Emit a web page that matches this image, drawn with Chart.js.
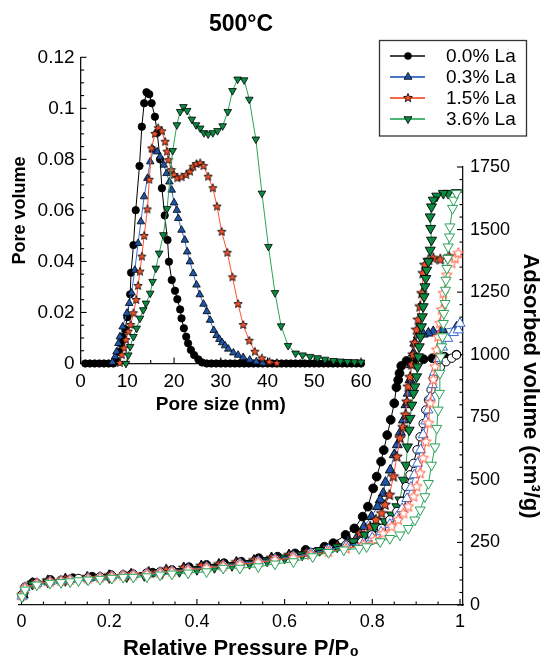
<!DOCTYPE html>
<html><head><meta charset="utf-8">
<script src="https://cdn.jsdelivr.net/npm/chart.js@4.4.0/dist/chart.umd.min.js"></script>
<style>
html,body{margin:0;padding:0;background:#fff;}
#wrap{position:relative;width:544px;height:660px;overflow:hidden;}
#main,#inset{position:absolute;left:0;top:0;}
</style></head><body>
<div id="wrap"><canvas id="main" width="544" height="660"></canvas><canvas id="inset" width="400" height="430"></canvas></div>
<script>
// ---------------- DATA ----------------
const chartTitle = '500°C';
const seriesLabels = ['0.0% La', '0.3% La', '1.5% La', '3.6% La'];

// Inset: pore size distribution (nm, pore volume)
const psdSize00 = [1,2,3,4,5,6,7,7.6,8.2,8.6,8.9,9.5,10.0,10.6,10.8,11.3,11.8,12.6,13.1,13.6,14.1,14.7,15.2,15.9,16.4,17.0,17.4,18.0,18.6,18.9,19.5,20.2,20.7,21.3,21.6,22.1,22.6,23.0,23.6,24.3,25.2,26,27,28,29,30,31,32,33,34,35,36,37,38,39,40,41,42,43,44,45,46,47,48,49,50,51,52,53,54,55,56,57,58,59,60];
const psdVol00  = [0,0,0,0,0,0,0,0.001,0.0046,0.0079,0.0105,0.0134,0.0181,0.0271,0.0356,0.0464,0.0601,0.0774,0.0928,0.1020,0.1063,0.1055,0.1020,0.0967,0.0904,0.0800,0.0687,0.058,0.0484,0.0399,0.0327,0.0285,0.0252,0.0212,0.0177,0.0138,0.0105,0.0079,0.0053,0.0033,0.0016,0.0004,0,0,0,0,0,0,0,0,0,0,0,0,0,0,0,0,0,0,0,0,0,0,0,0,0,0,0,0,0,0,0,0,0,0];
const psdSize03 = [6.8,7.4,7.7,8.1,8.4,9.0,9.9,10.4,10.9,11.6,12.3,12.9,13.6,14.3,14.9,15.6,16.4,17.0,17.8,18.4,19.0,19.5,20.0,20.6,20.9,21.6,22.3,22.8,23.4,24.1,24.8,25.5,26.3,27.0,27.7,28.5,29.1,29.7,30.3,30.9,31.6,32.7,33.7,34.8,36.2,37.6,39.0];
const psdVol03  = [0.0005,0.0027,0.0046,0.0079,0.0105,0.0144,0.0197,0.0236,0.0277,0.0366,0.0471,0.0556,0.0654,0.0726,0.0791,0.0837,0.0830,0.0810,0.0778,0.0745,0.0712,0.0680,0.0630,0.0601,0.0569,0.0523,0.0484,0.0438,0.0399,0.0353,0.0308,0.0270,0.0233,0.0204,0.0170,0.0130,0.0110,0.0095,0.0082,0.0070,0.0057,0.0042,0.0033,0.0024,0.0014,0.0007,0.0002];
const psdSize15 = [8.4,8.8,9.3,9.7,10.2,10.7,11.3,11.9,12.3,12.7,13.1,13.6,14.3,14.7,15.2,15.9,16.6,17.4,18.1,18.5,18.8,19.4,20.0,20.7,21.6,22.6,23.4,24.1,24.8,25.6,26.3,27.3,28.3,29.2,30.2,31.4,32.5,33.7,34.8,36.1,37.3,38.8,40.4,42.0];
const psdVol15  = [0.0002,0.0033,0.006,0.0092,0.0125,0.0151,0.0197,0.0249,0.0304,0.036,0.0419,0.050,0.0604,0.072,0.0843,0.090,0.0922,0.0910,0.0869,0.0830,0.0797,0.0758,0.0739,0.0726,0.0730,0.0739,0.0752,0.0771,0.0782,0.0785,0.0774,0.0732,0.0687,0.0615,0.0516,0.0434,0.0338,0.0233,0.0151,0.0089,0.0046,0.002,0.0006,0.0001];
const psdSize36 = [9.7,10.2,10.6,11.3,12.0,12.7,13.4,14.0,14.9,15.4,16.1,16.8,17.7,18.5,19.7,20.6,21.3,22.0,22.8,23.8,24.7,25.6,26.4,27.3,28.3,29.3,30.4,31.5,32.5,33.6,35.0,36.1,37.5,38.8,40.2,41.6,42.9,44.4,46.0,47.5,49.1,50.7,52.3,54.1,55.6,57.1,58.6,60];
const psdVol36  = [0,0.0033,0.0066,0.0105,0.0138,0.0177,0.0210,0.0236,0.0275,0.0321,0.0373,0.0432,0.0504,0.0607,0.0834,0.0935,0.0987,0.1006,0.0991,0.0957,0.0935,0.0922,0.0904,0.0899,0.0904,0.0912,0.0931,0.0987,0.1069,0.1114,0.1111,0.1035,0.0879,0.0667,0.0458,0.0277,0.0147,0.0070,0.0040,0.0033,0.0027,0.0022,0.0016,0.0011,0.0009,0.0007,0.0006,0.0005];

// Main: isotherms (P/P0, adsorbed volume) - open = adsorption, filled = desorption
const p00Ads = [0.001,0.008,0.035,0.065,0.09,0.111,0.13,0.152,0.179,0.206,0.232,0.255,0.286,0.316,0.343,0.38,0.422,0.46,0.498,0.54,0.578,0.62,0.66,0.70,0.74,0.776,0.799,0.821,0.84,0.856,0.867,0.877,0.886,0.894,0.902,0.909,0.916,0.922,0.928,0.934,0.939,0.955,0.968,0.981,0.992];
const v00Ads = [40,72,88,95,99,103,106,109,113,117,121,123,128,133,138,145,153,160,168,177,186,197,210,225,240,253,280,306,340,373,413,473,520,566,620,672,725,779,819,860,906,950,972,986,999];
const p00Des = [0.992,0.965,0.937,0.917,0.897,0.878,0.866,0.862,0.859,0.855,0.850,0.842,0.834,0.826,0.820,0.810,0.802,0.790,0.778,0.759,0.739,0.711,0.691,0.648,0.624,0.584,0.541,0.501,0.462,0.422,0.382,0.343,0.299,0.252,0.204,0.161,0.117,0.066,0.026,0.004];
const v00Des = [1000,992,986,982,979,975,955,926,899,870,806,740,679,619,573,513,466,393,353,306,280,247,233,220,206,193,187,173,167,160,151,140,129,124,120,113,107,100,89,45];

const p03Ads = [0.001,0.008,0.035,0.065,0.09,0.111,0.152,0.179,0.206,0.232,0.255,0.286,0.316,0.343,0.38,0.422,0.46,0.498,0.54,0.578,0.62,0.66,0.70,0.74,0.78,0.80,0.82,0.84,0.856,0.868,0.879,0.888,0.896,0.903,0.91,0.916,0.922,0.927,0.932,0.937,0.942,0.95,0.96,0.972,0.985,0.996,1.0];
const v03Ads = [35,70,86,93,97,101,107,111,115,119,121,126,131,136,143,151,158,166,175,184,194,206,221,236,248,268,292,322,352,385,425,470,520,566,620,680,735,779,830,880,930,985,1030,1065,1088,1099,1125];
const p03Des = [0.992,0.96,0.939,0.928,0.916,0.905,0.897,0.894,0.889,0.886,0.882,0.877,0.871,0.864,0.857,0.85,0.841,0.83,0.825,0.818,0.812,0.798,0.781,0.766,0.745,0.72,0.69,0.65,0.61,0.57,0.53,0.49,0.45,0.41,0.37,0.33,0.29,0.25,0.2,0.15,0.1,0.06,0.025,0.004];
const v03Des = [1110,1100,1092,1086,1082,1079,1046,1006,960,899,846,800,739,690,640,600,539,490,446,420,393,353,313,273,255,238,225,212,200,188,178,170,162,156,148,138,128,122,117,110,103,96,86,40];

const p15Ads = [0.001,0.008,0.035,0.065,0.09,0.111,0.152,0.179,0.206,0.232,0.255,0.286,0.316,0.343,0.38,0.422,0.46,0.498,0.54,0.578,0.62,0.66,0.70,0.74,0.78,0.806,0.825,0.844,0.859,0.871,0.882,0.894,0.901,0.909,0.916,0.922,0.928,0.932,0.939,0.943,0.947,0.950,0.954,0.958,0.962,0.970,0.981,0.989,0.996];
const v15Ads = [38,68,85,92,96,100,105,109,113,117,119,123,128,133,140,148,155,162,170,179,189,200,212,225,240,260,286,313,340,366,393,433,473,526,586,652,726,806,900,952,1019,1072,1125,1179,1245,1318,1365,1385,1405];
const p15Des = [0.975,0.955,0.939,0.928,0.92,0.916,0.913,0.909,0.905,0.901,0.897,0.893,0.890,0.886,0.882,0.879,0.876,0.870,0.863,0.856,0.848,0.839,0.829,0.821,0.808,0.795,0.772,0.749,0.72,0.69,0.65,0.61,0.57,0.53,0.49,0.45,0.41,0.37,0.33,0.29,0.25,0.2,0.15,0.1,0.06,0.025,0.004];
const v15Des = [1392,1380,1385,1378,1358,1325,1245,1192,1139,1099,1046,1000,960,910,872,812,760,710,666,592,513,439,400,366,340,313,286,253,236,222,210,199,188,178,170,162,156,148,141,132,124,118,111,104,97,87,42];

const p36Ads = [0.001,0.008,0.035,0.065,0.09,0.111,0.13,0.152,0.179,0.206,0.232,0.255,0.286,0.316,0.343,0.38,0.422,0.46,0.498,0.54,0.578,0.62,0.664,0.70,0.735,0.77,0.787,0.818,0.84,0.863,0.882,0.897,0.909,0.920,0.928,0.935,0.943,0.947,0.950,0.953,0.954,0.956,0.958,0.960,0.962,0.963,0.966,0.967,0.968,0.970,0.972,0.973,0.976,0.977,0.983,0.985,0.992];
const v36Ads = [33,60,80,87,90,93,97,100,103,107,111,111,113,120,124,128,133,147,147,153,164,173,193,210,220,226,233,253,266,280,306,340,380,433,486,559,632,706,779,846,926,992,1032,1072,1125,1165,1205,1258,1298,1345,1385,1431,1471,1511,1585,1618,1645];
const p36Des = [0.992,0.973,0.962,0.947,0.939,0.935,0.932,0.933,0.935,0.932,0.928,0.924,0.922,0.920,0.918,0.916,0.914,0.912,0.910,0.907,0.905,0.903,0.901,0.897,0.894,0.890,0.886,0.884,0.880,0.877,0.871,0.863,0.856,0.844,0.829,0.806,0.783,0.757,0.72,0.68,0.64,0.6,0.56,0.52,0.48,0.44,0.40,0.36,0.32,0.28,0.24,0.2,0.15,0.1,0.06,0.025,0.004];
const v36Des = [1648,1645,1645,1634,1618,1591,1551,1505,1458,1418,1372,1338,1305,1272,1232,1192,1152,1112,1072,1032,992,952,912,872,846,799,746,699,632,559,499,420,393,360,333,313,280,253,232,218,200,188,176,166,158,150,142,134,126,118,113,110,104,98,92,83,38];

// Tick values / labels
const isoXTicks = [0,0.2,0.4,0.6,0.8,1];
const isoXLabels = ['0','0.2','0.4','0.6','0.8','1'];
const isoYTicks = [0,250,500,750,1000,1250,1500,1750];
const isoYLabels = ['0','250','500','750','1000','1250','1500','1750'];
const psdXTicks = [0,10,20,30,40,50,60];
const psdXLabels = ['0','10','20','30','40','50','60'];
const psdYTicks = [0,0.02,0.04,0.06,0.08,0.1,0.12];
const psdYLabels = ['0','0.02','0.04','0.06','0.08','0.1','0.12'];

// ---------------- STYLE ----------------
const FONT = "'Liberation Sans', Arial, Helvetica, sans-serif";
Chart.defaults.font.family = FONT;
Chart.defaults.color = '#000';

const COL = {
  black: {line:'#000000', fill:'#000000', open:'#000000', leg:'#444444'},
  blue:  {line:'#3a6cd0', fill:'#1f55a8', open:'#3a6cd0', leg:'#4a74c6'},
  red:   {line:'#ff4f2e', fill:'#f0502a', open:'#ff5a3c', leg:'#f4684a'},
  green: {line:'#2aa35a', fill:'#0b8a42', open:'#2aa35a', leg:'#4cb878'}
};

function starCanvas(R, fill, stroke, lw){
  const size = 2*Math.ceil(R + lw + 1);
  const c = document.createElement('canvas'); c.width = size; c.height = size;
  const g = c.getContext('2d'); const cx = size/2, cy = size/2, r = R*0.45;
  g.beginPath();
  for (let i=0;i<10;i++){ const a = -Math.PI/2 + i*Math.PI/5; const rr = i%2===0 ? R : r;
    const x = cx + rr*Math.cos(a), y = cy + rr*Math.sin(a); if (i) g.lineTo(x,y); else g.moveTo(x,y); }
  g.closePath(); g.fillStyle = fill; g.fill(); g.lineWidth = lw; g.strokeStyle = stroke; g.stroke();
  return c;
}
const starInset = starCanvas(4.4, COL.red.fill, '#000', 0.8);
const starMainFilled = starCanvas(5.6, COL.red.fill, '#000', 0.9);
const starMainOpen = starCanvas(5.6, '#ffffff', COL.red.open, 1);
const starLegend = starCanvas(4.6, COL.red.fill, '#000', 0.8);

const pts = (xs, ys) => xs.map((x,i) => ({x, y: ys[i]}));
const minorTicks = (lo, hi, step, majors) => { const out=[]; const n=Math.round((hi-lo)/step);
  for (let i=0;i<=n;i++){ const v=+(lo+i*step).toFixed(6); if (!majors.some(m=>Math.abs(m-v)<1e-9)) out.push(v);} return out; };

const inwardTicks = {
  id: 'inwardTicks',
  beforeDatasetsDraw(chart, args, opts) {
    const ctx = chart.ctx; ctx.save(); ctx.strokeStyle = '#000'; ctx.lineWidth = 1.1;
    for (const spec of opts.axes) {
      const s = chart.scales[spec.id];
      const draw = (vals, len) => { for (const v of vals) {
        const p = s.getPixelForValue(v); ctx.beginPath();
        if (spec.side === 'bottom') { ctx.moveTo(p, s.top); ctx.lineTo(p, s.top - len); }
        else if (spec.side === 'right') { ctx.moveTo(s.left, p); ctx.lineTo(s.left - len, p); }
        else { ctx.moveTo(s.right, p); ctx.lineTo(s.right + len, p); }
        ctx.stroke(); } };
      draw(spec.major, 6); draw(spec.minor, 3.5);
    }
    ctx.restore();
  }
};

function drawMarker(ctx, type, x, y) {
  ctx.save(); ctx.lineWidth = 0.8; ctx.strokeStyle = '#000';
  if (type === 'circle') { ctx.beginPath(); ctx.arc(x, y, 3.7, 0, Math.PI*2); ctx.fillStyle = '#000'; ctx.fill(); }
  else if (type === 'star') { ctx.drawImage(starLegend, x - starLegend.width/2, y - starLegend.height/2); }
  else { const r = 4.6, d = type === 'up' ? -1 : 1; ctx.beginPath();
    ctx.moveTo(x, y + d*r); ctx.lineTo(x + r*0.866, y - d*r*0.5); ctx.lineTo(x - r*0.866, y - d*r*0.5); ctx.closePath();
    ctx.fillStyle = type === 'up' ? COL.blue.fill : COL.green.fill; ctx.fill(); ctx.stroke(); }
  ctx.restore();
}
const legendItems = [
  {marker:'circle', line: COL.black.leg},
  {marker:'up', line: COL.blue.leg},
  {marker:'star', line: COL.red.leg},
  {marker:'down', line: COL.green.leg}
];
const decor = {
  id: 'decor',
  afterDraw(chart) {
    const ctx = chart.ctx; const ca = chart.chartArea; ctx.save();
    ctx.fillStyle = '#000'; ctx.font = `bold 23px ${FONT}`; ctx.textAlign = 'center'; ctx.textBaseline = 'middle';
    ctx.fillText(chartTitle, (ca.left + ca.right)/2, 25);
    ctx.lineWidth = 1.3; ctx.strokeStyle = '#333'; ctx.strokeRect(379.5, 40.5, 147, 95.5);
    legendItems.forEach((it, i) => {
      const y = 56 + i*21;
      ctx.strokeStyle = it.line; ctx.lineWidth = 2; ctx.beginPath(); ctx.moveTo(390, y); ctx.lineTo(425, y); ctx.stroke();
      drawMarker(ctx, it.marker, 408, y);
      ctx.fillStyle = '#000'; ctx.font = `19px ${FONT}`; ctx.textAlign = 'left'; ctx.textBaseline = 'middle';
      ctx.fillText(seriesLabels[i], 446, y + 1);
    });
    ctx.restore();
  }
};

// ---------------- MAIN CHART ----------------
function isoSet(xs, ys, c, kind, filled, order) {
  const ds = { data: pts(xs, ys), showLine: true, borderColor: c.line, borderWidth: 1, order, clip: false,
    pointBorderWidth: filled ? 0.9 : 1 };
  if (kind === 'circle') { ds.pointStyle = 'circle'; ds.pointRadius = filled ? 4.4 : 4.2;
    ds.pointBackgroundColor = filled ? c.fill : '#fff'; ds.pointBorderColor = filled ? '#000' : c.open; }
  else if (kind === 'star') { ds.pointStyle = filled ? starMainFilled : starMainOpen; ds.pointRadius = 5; }
  else { ds.pointStyle = 'triangle'; ds.pointRadius = 5.8; ds.pointRotation = kind === 'down' ? 180 : 0;
    ds.pointBackgroundColor = filled ? c.fill : '#fff'; ds.pointBorderColor = filled ? '#000' : c.open; }
  return ds;
}
const mainSets = [
  isoSet(p00Des, v00Des, COL.black, 'circle', true, 8),
  isoSet(p03Des, v03Des, COL.blue, 'up', true, 7),
  isoSet(p15Des, v15Des, COL.red, 'star', true, 6),
  isoSet(p36Des, v36Des, COL.green, 'down', true, 5),
  isoSet(p00Ads, v00Ads, COL.black, 'circle', false, 4),
  isoSet(p03Ads, v03Ads, COL.blue, 'up', false, 3),
  isoSet(p15Ads, v15Ads, COL.red, 'star', false, 2),
  isoSet(p36Ads, v36Ads, COL.green, 'down', false, 1)
];

new Chart(document.getElementById('main'), {
  type: 'scatter',
  data: { datasets: mainSets },
  options: {
    responsive: false, animation: false, events: [],
    layout: { padding: { left: 19, top: 167, right: 0, bottom: 0 } },
    plugins: { legend: { display: false }, tooltip: { enabled: false },
      inwardTicks: { axes: [
        { id: 'x', side: 'bottom', major: isoXTicks, minor: minorTicks(0, 1, 0.05, isoXTicks) },
        { id: 'y', side: 'right', major: isoYTicks, minor: minorTicks(0, 1750, 50, isoYTicks) } ] } },
    scales: {
      x: { type: 'linear', position: 'bottom', min: -0.0057, max: 1.0068,
        afterFit(s) { s.height = 55; },
        afterBuildTicks(s) { s.ticks = isoXTicks.map(v => ({ value: v })); },
        grid: { display: false, drawTicks: false, tickLength: 0 },
        border: { display: true, color: '#111', width: 1.3 },
        ticks: { padding: 6, font: { size: 18 }, color: '#000', autoSkip: false, maxRotation: 0, callback: (v, i) => isoXLabels[i] },
        title: { display: true, text: 'Relative Pressure P/P₀', color: '#000', font: { size: 22, weight: 'bold', lineHeight: 1 }, padding: { top: 0, bottom: 0 } } },
      y: { type: 'linear', position: 'right', min: 0, max: 1750,
        afterFit(s) { s.width = 81; },
        afterBuildTicks(s) { s.ticks = isoYTicks.map(v => ({ value: v })); },
        grid: { display: false, drawTicks: false, tickLength: 0 },
        border: { display: true, color: '#111', width: 1.3 },
        ticks: { padding: 7, font: { size: 18 }, color: '#000', autoSkip: false, callback: (v, i) => isoYLabels[i] },
        title: { display: true, text: 'Adsorbed volume (cm³/g)', color: '#000', font: { size: 22, weight: 'bold', lineHeight: 1 }, padding: { top: 3, bottom: 0 } } }
    }
  },
  plugins: [inwardTicks, decor]
});

// ---------------- INSET CHART ----------------
function psdSet(xs, ys, c, kind, order) {
  const ds = { data: pts(xs, ys), showLine: true, borderColor: c.line, borderWidth: 1, order, clip: false, pointBorderWidth: 0.8 };
  if (kind === 'circle') { ds.pointStyle = 'circle'; ds.pointRadius = 3.7; ds.pointBackgroundColor = '#000'; ds.pointBorderColor = '#000'; }
  else if (kind === 'star') { ds.pointStyle = starInset; ds.pointRadius = 4; }
  else { ds.pointStyle = 'triangle'; ds.pointRadius = 4.4; ds.pointRotation = kind === 'down' ? 180 : 0;
    ds.pointBackgroundColor = c.fill; ds.pointBorderColor = '#000'; }
  return ds;
}
new Chart(document.getElementById('inset'), {
  type: 'scatter',
  data: { datasets: [
    psdSet(psdSize00, psdVol00, COL.black, 'circle', 4),
    psdSet(psdSize03, psdVol03, COL.blue, 'up', 3),
    psdSet(psdSize15, psdVol15, COL.red, 'star', 2),
    psdSet(psdSize36, psdVol36, COL.green, 'down', 1) ] },
  options: {
    responsive: false, animation: false, events: [],
    layout: { padding: { left: 0, top: 57.3, right: 39, bottom: 0 } },
    plugins: { legend: { display: false }, tooltip: { enabled: false },
      inwardTicks: { axes: [
        { id: 'x', side: 'bottom', major: psdXTicks, minor: minorTicks(0, 60, 5, psdXTicks) },
        { id: 'y', side: 'left', major: psdYTicks, minor: minorTicks(0, 0.12, 0.005, psdYTicks) } ] } },
    scales: {
      x: { type: 'linear', position: 'bottom', min: 0, max: 60,
        afterFit(s) { s.height = 66.5; },
        afterBuildTicks(s) { s.ticks = psdXTicks.map(v => ({ value: v })); },
        grid: { display: false, drawTicks: false, tickLength: 0 },
        border: { display: true, color: '#111', width: 1.3 },
        ticks: { padding: 6.8, font: { size: 19 }, color: '#000', autoSkip: false, maxRotation: 0, callback: (v, i) => psdXLabels[i] },
        title: { display: true, text: 'Pore size (nm)', color: '#000', font: { size: 19, weight: 'bold', lineHeight: 1 }, padding: { top: 0, bottom: 16 } } },
      y: { type: 'linear', position: 'left', min: 0, max: 0.12,
        afterFit(s) { s.width = 80.6; },
        afterBuildTicks(s) { s.ticks = psdYTicks.map(v => ({ value: v })); },
        grid: { display: false, drawTicks: false, tickLength: 0 },
        border: { display: true, color: '#111', width: 1.3 },
        ticks: { padding: 6, font: { size: 19 }, color: '#000', autoSkip: false, callback: (v, i) => psdYLabels[i] },
        title: { display: true, text: 'Pore volume', color: '#000', font: { size: 18, weight: 'bold', lineHeight: 1 }, padding: { top: 11, bottom: 0 } } }
    }
  },
  plugins: [inwardTicks]
});
</script>
</body></html>
